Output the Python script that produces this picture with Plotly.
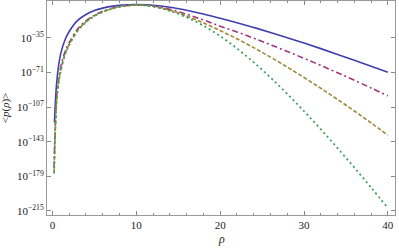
import plotly.graph_objects as go

# rho sample points
rho_blue = [0.24, 0.3, 0.5, 0.75, 1.0, 1.5, 2.0, 3.0, 4.0, 5.0, 6.0, 7.0, 8.0, 9.0, 10.0,
            12.0, 14.0, 16.0, 18.0, 20.0, 22.0, 24.0, 26.0, 28.0, 30.0, 32.0, 34.0, 36.0, 38.0, 40.0]
logp_blue = [-123, -110, -82, -63, -51, -37, -28.5, -17, -10.8, -6.8, -4.2, -2.4, -1.3, -0.8, -0.6,
             -1.2, -3.3, -6.5, -10.4, -14.8, -19.4, -24.3, -29.5, -34.9, -40.5, -46.3, -52.3, -58.4, -64.6, -70.9]

rho_d = [0.2, 0.3, 0.5, 0.75, 1.0, 1.5, 2.0, 3.0, 4.0, 5.0, 6.0, 7.0, 8.0, 9.0, 10.0,
         12.0, 14.0, 16.0, 18.0, 20.0, 22.0, 24.0, 26.0, 28.0, 30.0, 32.0, 34.0, 36.0, 38.0, 40.0]
logp_purple = [-170, -135, -96, -77, -65, -49.5, -40, -26, -17.5, -11.6, -7.5, -4.7, -2.6, -1.4, -0.9,
               -2.0, -5.5, -10.5, -16.5, -23.0, -29.0, -35.4, -42.2, -49.2, -56.4, -63.8, -71.4, -79.2, -87.2, -95.4]
logp_yellow = [-175, -140, -100, -80, -68, -52, -42, -27.5, -18.5, -12.3, -8, -5, -2.8, -1.5, -0.9,
               -2.3, -6.5, -12.5, -19.5, -27.5, -36.1, -45.3, -55.1, -65.5, -76.3, -87.5, -99.1, -111.1, -123.5, -136.3]
logp_green = [-176, -141, -101, -81, -69, -52.5, -42.5, -28, -18.8, -12.5, -8.1, -5.1, -2.9, -1.6, -1.0,
              -2.5, -7.1, -13.7, -22.5, -33.3, -46.1, -60.5, -76.3, -93.3, -111.3, -130.1, -149.7, -169.9, -190.7, -211.9]

x_ticks = [0, 10, 20, 30, 40]
y_exps = [-35, -71, -107, -143, -179, -215]

fig = go.Figure()
fig.add_trace(go.Scatter(x=rho_blue, y=logp_blue, mode="lines",
                         line=dict(color="#4040ac", width=1.6, shape="spline")))
fig.add_trace(go.Scatter(x=rho_d, y=logp_purple, mode="lines",
                         line=dict(color="#a0357e", width=1.6, dash="6px,3px,2px,3px", shape="spline")))
fig.add_trace(go.Scatter(x=rho_d, y=logp_yellow, mode="lines",
                         line=dict(color="#a08a3a", width=1.6, dash="4px,2px", shape="spline")))
fig.add_trace(go.Scatter(x=rho_d, y=logp_green, mode="lines",
                         line=dict(color="#3ea15a", width=1.8, dash="2px,3px", shape="spline")))

axis_font = dict(family="Liberation Serif", size=11, color="#222")
fig.update_layout(
    width=399, height=248,
    margin=dict(l=47, r=4, t=1, b=33, autoexpand=False),
    plot_bgcolor="white", paper_bgcolor="white",
    showlegend=False,
    font=axis_font,
    annotations=[
        dict(text="<i>ρ</i>", xref="paper", yref="paper", x=0.5, y=-0.112,
             yanchor="middle", showarrow=False, font=dict(family="Liberation Serif", size=12, color="#222")),
        dict(text="&lt;<i>p</i>(<i>ρ</i>)&gt;", xref="paper", yref="paper", x=-0.12, y=0.5,
             textangle=-90, showarrow=False, xanchor="center",
             font=dict(family="Liberation Serif", size=11, color="#222")),
    ],
)
fig.update_xaxes(
    range=[-0.65, 40.85], showgrid=False, zeroline=False, automargin=False,
    tickvals=x_ticks, ticktext=[str(v) for v in x_ticks],
    ticks="inside", ticklen=4, tickcolor="#888", showline=True, linecolor="#999",
    linewidth=1, mirror="allticks", ticklabeloverflow="allow",
    minor=dict(dtick=2, tick0=0, ticks="inside", ticklen=2, tickcolor="#888"),
    tickfont=axis_font,
)
fig.update_yaxes(
    range=[-219.2, 3.2], showgrid=False, zeroline=False, automargin=False,
    tickvals=y_exps, ticktext=["10<sup>\u2212%d</sup>" % (-v) for v in y_exps],
    ticks="inside", ticklen=4, tickcolor="#888", showline=True, linecolor="#999",
    linewidth=1, mirror="allticks", ticklabeloverflow="allow",
    tickfont=axis_font,
)

fig.write_html("out.html", config={"displayModeBar": False},
               post_script="document.body.style.margin='0';document.body.style.padding='0';"
                           "document.body.style.overflow='hidden';")
